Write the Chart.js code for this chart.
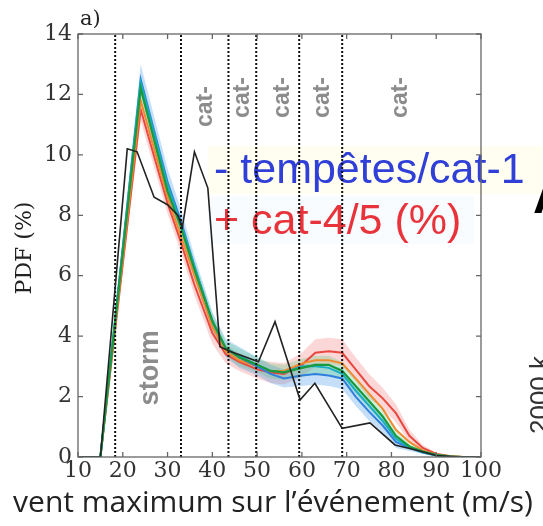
<!DOCTYPE html>
<html>
<head>
<meta charset="utf-8">
<script src="https://cdn.jsdelivr.net/npm/chart.js@4"></script>
<style>
  html, body { margin: 0; padding: 0; background: #fff; }
</style>
</head>
<body>
<canvas id="pdf" width="543" height="526"></canvas>
<script>
// wind speed bins (m/s) used by the model curves
const speeds = [10, 15, 24, 30, 33, 36, 40, 43, 46, 50, 53, 56, 60, 63, 66, 69, 72, 75, 78, 81, 84, 87, 90, 93, 96, 100];

// model PDFs (%) and their spread
const pdfGreen  = [0, 0, 12.2, 8.8, 7.6, 6.2, 4.5, 3.6, 3.3, 3.05, 2.85, 2.8, 2.95, 3.05, 3.05, 2.85, 2.35, 1.85, 1.35, 0.7, 0.35, 0.18, 0.07, 0.02, 0, 0];
const pdfCyan   = [0, 0, 12.4, 9.0, 7.7, 6.3, 4.5, 3.6, 3.35, 3.05, 2.85, 2.8, 3.0, 3.0, 2.95, 2.75, 2.2, 1.7, 1.2, 0.6, 0.32, 0.16, 0.06, 0.01, 0, 0];
const pdfBlue   = [0, 0, 12.5, 9.1, 7.8, 6.3, 4.5, 3.6, 3.3, 3.0, 2.75, 2.6, 2.7, 2.75, 2.7, 2.6, 2.0, 1.5, 1.05, 0.5, 0.3, 0.15, 0.05, 0.01, 0, 0];
const pdfOrange = [0, 0, 11.8, 8.6, 7.3, 6.0, 4.3, 3.5, 3.2, 3.0, 2.85, 2.85, 3.1, 3.2, 3.2, 3.1, 2.6, 2.1, 1.6, 0.9, 0.5, 0.22, 0.08, 0.02, 0, 0];
const pdfRed    = [0, 0, 11.5, 8.4, 7.1, 5.7, 4.1, 3.4, 3.15, 2.9, 2.8, 2.75, 3.05, 3.45, 3.5, 3.45, 2.9, 2.35, 1.95, 1.45, 0.7, 0.3, 0.1, 0.03, 0, 0];
const spreadBlue = [0, 0, 0.5, 0.45, 0.4, 0.35, 0.3, 0.3, 0.35, 0.3, 0.3, 0.3, 0.35, 0.35, 0.35, 0.35, 0.3, 0.3, 0.25, 0.2, 0.1, 0.05, 0.03, 0, 0, 0];
const spreadRed  = [0, 0, 0.4, 0.35, 0.35, 0.35, 0.35, 0.3, 0.3, 0.3, 0.35, 0.35, 0.4, 0.45, 0.45, 0.45, 0.4, 0.4, 0.35, 0.3, 0.2, 0.1, 0.05, 0.02, 0, 0];
const spreadGreen = [0, 0, 0.3, 0.3, 0.3, 0.3, 0.25, 0.25, 0.3, 0.25, 0.25, 0.25, 0.3, 0.3, 0.3, 0.3, 0.25, 0.25, 0.2, 0.15, 0.1, 0.05, 0.02, 0, 0, 0];

// observed (best track) PDF
const obsSpeeds = [10, 15, 21, 23.2, 27, 30, 32.3, 33.3, 36, 39, 41.7, 43.9, 50.3, 54, 59.6, 62.9, 69, 75.2, 80.8, 85, 90, 95, 100];
const obsPdf    = [0, 0, 10.2, 10.1, 8.6, 8.35, 8.0, 7.6, 10.1, 8.9, 3.65, 3.5, 3.15, 4.48, 1.89, 2.44, 0.95, 1.13, 0.4, 0.25, 0.05, 0, 0];

// Saffir-Simpson thresholds (m/s)
const categoryBounds = [18.3, 33, 43.6, 49.8, 59.4, 69];

const xTicks = [10, 20, 30, 40, 50, 60, 70, 80, 90, 100];
const yTicks = [0, 2, 4, 6, 8, 10, 12, 14];

// labels inside the plot: [text, x (m/s), y (%)]
const zoneLabels = [['cat-', 38.4, 11.6], ['cat-', 46.8, 11.9], ['cat-', 55.6, 11.9], ['cat-', 64.7, 11.9], ['cat-', 82.1, 11.9]];
const stormLabel = ['storm', 26.1, 2.95];

function pts(xs, ys) {
  return xs.map((x, i) => ({ x: x, y: ys[i] }));
}

const datasets = [];
datasets.push({ data: pts(obsSpeeds, obsPdf), borderColor: '#222', borderWidth: 1.6 });
categoryBounds.forEach(b => {
  datasets.push({ data: [{ x: b, y: 0 }, { x: b, y: 14 }], borderColor: '#111', borderWidth: 2, borderDash: [2, 2] });
});
datasets.push({ data: pts(speeds, pdfGreen), borderColor: '#1a9a3c', borderWidth: 2.2 });
datasets.push({ data: pts(speeds, pdfCyan), borderColor: '#17aebf', borderWidth: 2 });
datasets.push({ data: pts(speeds, pdfBlue), borderColor: '#2f7fdc', borderWidth: 2 });
datasets.push({ data: pts(speeds, pdfOrange), borderColor: '#ef8a2e', borderWidth: 2 });
datasets.push({ data: pts(speeds, pdfRed), borderColor: '#e8483f', borderWidth: 2 });

// shaded spread bands, drawn underneath everything
function addBand(vals, spread, color) {
  const lo = vals.map((v, i) => Math.max(0, v - spread[i]));
  const hi = vals.map((v, i) => v + spread[i]);
  const loIndex = datasets.length;
  datasets.push({ data: pts(speeds, lo), borderWidth: 0, borderColor: 'transparent', fill: false });
  datasets.push({ data: pts(speeds, hi), borderWidth: 0, borderColor: 'transparent', fill: { target: loIndex }, backgroundColor: color });
}
addBand(pdfGreen, spreadGreen, 'rgba(60,200,110,0.25)');
addBand(pdfBlue, spreadBlue, 'rgba(60,150,230,0.3)');
addBand(pdfRed, spreadRed, 'rgba(245,110,110,0.28)');

const decorations = {
  id: 'decorations',
  beforeDatasetsDraw(chart) {
    const { ctx, scales: { x, y } } = chart;
    ctx.save();
    ctx.fillStyle = '#8c8c8c';
    ctx.textAlign = 'center';
    ctx.textBaseline = 'middle';
    ctx.font = 'bold 23px "Liberation Sans", Arial, sans-serif';
    zoneLabels.forEach(([t, vx, vy]) => {
      ctx.save();
      ctx.translate(x.getPixelForValue(vx), y.getPixelForValue(vy));
      ctx.rotate(-Math.PI / 2);
      ctx.fillText(t, 0, 0);
      ctx.restore();
    });
    ctx.font = 'bold 27px "Liberation Sans", Arial, sans-serif';
    ctx.save();
    ctx.translate(x.getPixelForValue(stormLabel[1]), y.getPixelForValue(stormLabel[2]));
    ctx.rotate(-Math.PI / 2);
    ctx.fillText(stormLabel[0], 0, 0);
    ctx.restore();

    // legend text with its light highlight
    ctx.fillStyle = 'rgba(255,252,205,0.3)';
    ctx.fillRect(208, 146, 334, 48);
    ctx.fillStyle = 'rgba(235,245,255,0.3)';
    ctx.fillRect(208, 196, 266, 48);
    ctx.textAlign = 'left';
    ctx.font = '43px "Liberation Sans", Arial, sans-serif';
    ctx.fillStyle = '#2f3fd8';
    ctx.fillText('- tempêtes/cat-1', 214, 171);
    ctx.fillStyle = '#e8333b';
    ctx.fillText('+ cat-4/5 (%)', 214, 222);
    ctx.restore();
  },
  afterDraw(chart) {
    const { ctx, chartArea: a, scales: { x, y } } = chart;
    ctx.save();
    // frame and inward ticks
    ctx.strokeStyle = '#666';
    ctx.lineWidth = 1.3;
    ctx.strokeRect(a.left, a.top, a.right - a.left, a.bottom - a.top);
    ctx.beginPath();
    xTicks.forEach(v => {
      const px = x.getPixelForValue(v);
      ctx.moveTo(px, a.bottom); ctx.lineTo(px, a.bottom - 5);
      ctx.moveTo(px, a.top); ctx.lineTo(px, a.top + 5);
    });
    yTicks.forEach(v => {
      const py = y.getPixelForValue(v);
      ctx.moveTo(a.left, py); ctx.lineTo(a.left + 5, py);
      ctx.moveTo(a.right, py); ctx.lineTo(a.right - 5, py);
    });
    ctx.stroke();

    // axis titles
    ctx.fillStyle = '#222';
    ctx.textAlign = 'center';
    ctx.textBaseline = 'middle';
    ctx.font = '30px "Open Sans", sans-serif';
    ctx.fillText('vent maximum sur l’événement (m/s)', 273, 503);
    ctx.save();
    ctx.translate(25, 248);
    ctx.rotate(-Math.PI / 2);
    ctx.font = '22px "DejaVu Serif", serif';
    ctx.fillText('PDF (%)', 0, 0);
    ctx.restore();

    ctx.textAlign = 'left';
    ctx.font = '21px "DejaVu Serif", serif';
    ctx.fillText('a)', 80, 20);

    // edge of the neighbouring panel
    ctx.font = 'bold 50px "Liberation Sans", Arial, sans-serif';
    ctx.textBaseline = 'alphabetic';
    ctx.fillStyle = '#000';
    ctx.fillText('A', 533, 213);
    ctx.save();
    ctx.translate(541, 395);
    ctx.rotate(-Math.PI / 2);
    ctx.textAlign = 'center';
    ctx.textBaseline = 'middle';
    ctx.font = '26px "Liberation Sans", Arial, sans-serif';
    ctx.fillStyle = '#333';
    ctx.fillText('2000 k', 0, 0);
    ctx.restore();
    ctx.restore();
  }
};

new Chart('pdf', {
  type: 'line',
  data: { datasets: datasets },
  options: {
    responsive: false,
    animation: false,
    devicePixelRatio: 1,
    layout: { padding: { left: 0, right: 62, top: 34, bottom: 0 } },
    elements: { point: { radius: 0 }, line: { tension: 0 } },
    plugins: { legend: { display: false }, tooltip: { enabled: false } },
    scales: {
      x: {
        type: 'linear', min: 10, max: 100,
        afterFit: s => { s.height = 69; },
        afterBuildTicks: s => { s.ticks = xTicks.map(v => ({ value: v })); },
        grid: { display: false, drawTicks: false },
        border: { display: false },
        ticks: { autoSkip: false, padding: 1, color: '#333', maxRotation: 0, font: { family: 'DejaVu Serif', size: 22 } }
      },
      y: {
        min: 0, max: 14,
        afterFit: s => { s.width = 78; },
        afterBuildTicks: s => { s.ticks = yTicks.map(v => ({ value: v })); },
        grid: { display: false, drawTicks: false },
        border: { display: false },
        ticks: { autoSkip: false, padding: 6, color: '#333', font: { family: 'DejaVu Serif', size: 22 } }
      }
    }
  },
  plugins: [decorations]
});
</script>
</body>
</html>
